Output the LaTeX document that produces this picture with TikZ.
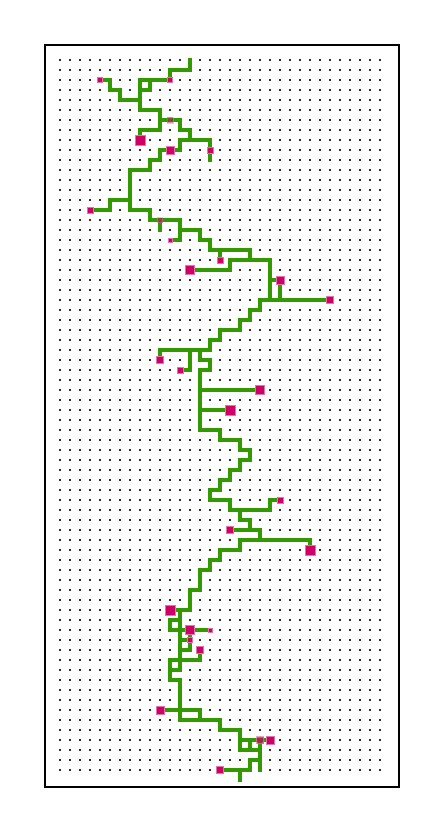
\documentclass[tikz,border=0pt]{standalone}
\definecolor{gr}{RGB}{51,153,0}
\definecolor{mg}{RGB}{204,0,102}
\definecolor{dotc}{RGB}{45,45,45}
\begin{document}
\begin{tikzpicture}[x=1pt,y=-1pt,
  branch/.style={draw=gr,line width=4pt,line cap=rect,line join=miter},
  endsq/.style={rectangle,fill=mg,draw=mg!55,line width=0.8pt,inner sep=0pt,minimum size=#1},
  faint/.style={opacity=0.45}]
\useasboundingbox (0,0) rectangle (444,832);
% frame
\draw[line width=2pt] (45,45) rectangle (399,786.5);
% dot grid
\foreach \i in {0,...,32}{\foreach \j in {0,...,71}{\fill[dotc] ({59+10*\i},{59+10*\j}) rectangle ++(2,2);}}
% branches
\draw[branch] (190,60)--(190,70)--(170,70)--(170,80);
\draw[branch] (170,80)--(140,80)--(140,110)--(160,110)--(160,130)--(140,130)--(140,140);
\draw[branch] (150,80)--(150,90)--(140,90);
\draw[branch] (100,80)--(110,80)--(110,90)--(120,90)--(120,100)--(140,100);
\draw[branch] (160,120)--(180,120)--(180,130)--(190,130)--(190,140);
\draw[branch] (180,140)--(210,140)--(210,160);
\draw[branch] (180,140)--(180,150)--(160,150)--(160,160)--(150,160)--(150,170)--(130,170)--(130,210)--(150,210)--(150,220)--(180,220)--(180,240)--(170,240);
\draw[branch] (130,200)--(110,200)--(110,210)--(90,210);
\draw[branch] (160,220)--(160,230);
\draw[branch] (180,230)--(200,230)--(200,240)--(210,240)--(210,250)--(250,250)--(250,260);
\draw[branch] (220,250)--(220,260);
\draw[branch] (190,270)--(230,270)--(230,260)--(270,260)--(270,300);
\draw[branch] (270,280)--(280,280)--(280,300);
\draw[branch] (330,300)--(260,300)--(260,310)--(250,310)--(250,320)--(240,320)--(240,330)--(220,330)--(220,340)--(210,340)--(210,350)--(160,350)--(160,360);
\draw[branch] (190,350)--(190,370)--(180,370);
\draw[branch] (200,350)--(200,360)--(210,360)--(210,370)--(200,370)--(200,430)--(220,430)--(220,440)--(240,440)--(240,450)--(250,450)--(250,460)--(240,460)--(240,470)--(230,470)--(230,480)--(220,480)--(220,490)--(210,490)--(210,500)--(230,500)--(230,510)--(270,510)--(270,500)--(280,500);
\draw[branch] (200,390)--(260,390);
\draw[branch] (200,410)--(230,410);
\draw[branch] (240,510)--(240,520)--(250,520)--(250,530);
\draw[branch] (230,530)--(260,530)--(260,540);
\draw[branch] (240,540)--(310,540)--(310,550);
\draw[branch] (240,540)--(240,550)--(220,550)--(220,560)--(210,560)--(210,570)--(200,570)--(200,590)--(190,590)--(190,610)--(170,610);
\draw[branch] (180,610)--(180,620)--(170,620)--(170,630)--(210,630);
\draw[branch] (180,620)--(180,670)--(170,670);
\draw[branch] (180,640)--(190,640);
\draw[branch] (190,630)--(190,650)--(180,650);
\draw[branch] (170,660)--(200,660)--(200,650);
\draw[branch] (170,660)--(170,680)--(180,680)--(180,720);
\draw[branch] (160,710)--(200,710)--(200,720);
\draw[branch] (180,720)--(220,720)--(220,730)--(240,730)--(240,750);
\draw[branch] (240,740)--(270,740);
\draw[branch] (250,740)--(250,750);
\draw[branch] (240,750)--(260,750);
\draw[branch] (260,740)--(260,770);
\draw[branch] (260,760)--(250,760)--(250,770)--(220,770);
\draw[branch] (240,770)--(240,780);
% end squares
\node[endsq=5pt] (e1) at (100,80) {};
\node[endsq=5pt] (e2) at (170,80) {};
\node[endsq=6pt,faint] (e3) at (170,120) {};
\node[endsq=10pt] (e4) at (140,140) {};
\node[endsq=8pt] (e5) at (170,150) {};
\node[endsq=6pt] (e6) at (210,150) {};
\node[endsq=6pt] (e7) at (90,210) {};
\node[endsq=5pt,faint] (e8) at (160,220) {};
\node[endsq=4pt] (e9) at (170,240) {};
\node[endsq=6pt] (e10) at (220,260) {};
\node[endsq=9pt] (e11) at (190,270) {};
\node[endsq=8pt] (e12) at (280,280) {};
\node[endsq=7pt] (e13) at (330,300) {};
\node[endsq=7pt] (e14) at (160,360) {};
\node[endsq=6pt] (e15) at (180,370) {};
\node[endsq=9pt] (e16) at (260,390) {};
\node[endsq=10pt] (e17) at (230,410) {};
\node[endsq=6pt] (e18) at (280,500) {};
\node[endsq=7pt] (e19) at (230,530) {};
\node[endsq=10pt] (e20) at (310,550) {};
\node[endsq=10pt] (e21) at (170,610) {};
\node[endsq=9pt] (e22) at (190,630) {};
\node[endsq=4pt] (e23) at (210,630) {};
\node[endsq=5pt] (e24) at (190,640) {};
\node[endsq=7pt] (e25) at (200,650) {};
\node[endsq=8pt] (e26) at (160,710) {};
\node[endsq=7pt,opacity=0.7] (e27) at (260,740) {};
\node[endsq=8pt] (e28) at (270,740) {};
\node[endsq=7pt] (e29) at (220,770) {};
\end{tikzpicture}
\end{document}
